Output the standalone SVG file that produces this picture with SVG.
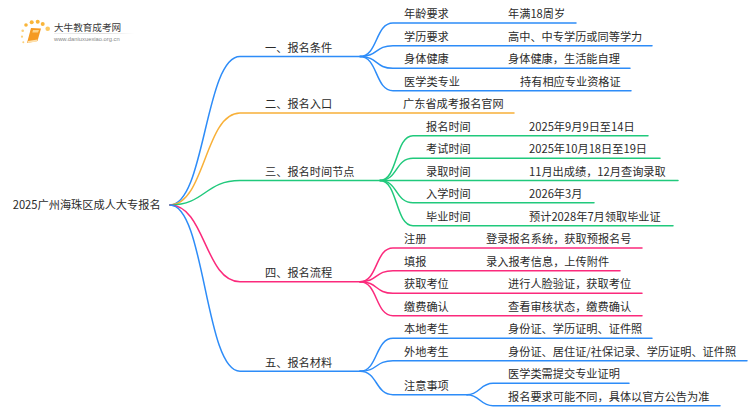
<svg xmlns="http://www.w3.org/2000/svg" width="750" height="410" viewBox="0 0 750 410">
<defs>
<style>
text{font-family:"Noto Sans CJK SC","Liberation Sans",sans-serif;fill:#2b2b2b;font-size:11.200px}
path{fill:none;stroke-width:1.5;stroke-linecap:round}
.b{stroke:#2d8cf8}.o{stroke:#f8b038}.g{stroke:#20c97c}.p{stroke:#fb2a7c}
</style>
<linearGradient id="fade" x1="0" x2="1" y1="0" y2="0"><stop offset="0" stop-color="#eee"/><stop offset="0.6" stop-color="#ddd"/><stop offset="1" stop-color="#fff"/></linearGradient>
</defs>
<rect width="750" height="410" fill="#fff"/>
<g id="logo">
<circle cx="26" cy="25" r="1.800" fill="#f9b53a"/><circle cx="22.700" cy="30.700" r="1.300" fill="#fbd07a"/><circle cx="31.700" cy="22.300" r="2" fill="#f9b53a"/><circle cx="37.700" cy="21.700" r="2" fill="#f9b53a"/><circle cx="42.700" cy="24" r="2" fill="#f9b53a"/><circle cx="47.700" cy="28.700" r="2.300" fill="#fbc862"/><circle cx="22" cy="36.700" r="1.100" fill="#fbd07a"/><circle cx="23.300" cy="42.300" r="1" fill="#fbd07a"/>
<polygon points="31,28 41,28.500 37.500,41 27,43" fill="#f59a23"/><polygon points="33,30 39,30 38,32.500 32.300,32.500" fill="#fcd38a"/><polygon points="28,41 37.500,39.500 37,41.500 27.500,43" fill="#fde0ad"/>
<text x="54" y="31" style="font-size:9.600px;fill:#3a3a3a">大牛教育成考网</text>
<text x="54" y="40.500" style="font-size:5.800px;fill:#888;font-family:'Liberation Sans',sans-serif">www.daniuxuexiao.org.cn</text>
<rect x="54" y="33" width="80" height="1" fill="url(#fade)"/>
</g>
<g id="connectors">
<path class="b" d="M170 205C205 205 205 56.500 240 56.500H360"/>
<path class="o" d="M170 205C205 205 205 113 240 113H514"/>
<path class="g" d="M170 205C205 205 205 180.500 240 180.500H380"/>
<path class="p" d="M170 205C205 205 205 281.700 240 281.700H360"/>
<path class="b" d="M170 205C205 205 205 371.300 240 371.300H360"/>
<path class="b" d="M360 56.500C378 56.500 375 23 393 23H576"/>
<path class="b" d="M360 56.500C378 56.500 375 45.700 393 45.700H652"/>
<path class="b" d="M360 56.500C378 56.500 375 68.300 393 68.300H630"/>
<path class="b" d="M360 56.500C378 56.500 375 90.700 393 90.700H631"/>
<path class="g" d="M380 180.500C398 180.500 395 135.700 413 135.700H648"/>
<path class="g" d="M380 180.500C398 180.500 395 158.300 413 158.300H660"/>
<path class="g" d="M380 180.500H678"/>
<path class="g" d="M380 180.500C398 180.500 395 202.700 413 202.700H594"/>
<path class="g" d="M380 180.500C398 180.500 395 225.700 413 225.700H673"/>
<path class="p" d="M360 281.700C378 281.700 375 248 393 248H642"/>
<path class="p" d="M360 281.700C378 281.700 375 270.700 393 270.700H620"/>
<path class="p" d="M360 281.700C378 281.700 375 293.300 393 293.300H642"/>
<path class="p" d="M360 281.700C378 281.700 375 315.700 393 315.700H642"/>
<path class="b" d="M360 371.300C378 371.300 375 338.300 393 338.300H652"/>
<path class="b" d="M360 371.300C378 371.300 375 360.700 393 360.700H747"/>
<path class="b" d="M360 371.300C378 371.300 375 394.700 393 394.700H467"/>
<path class="b" d="M467 394.700C480 394.700 480 383.300 493 383.300H629"/>
<path class="b" d="M467 394.700C480 394.700 480 405.700 493 405.700H720"/>
</g>
<g id="root"><text x="12.700" y="209">2025广州海珠区成人大专报名</text></g>
<g id="n1"><text x="265" y="52">一、报名条件</text>
<text x="404" y="18">年龄要求</text><text x="508" y="18">年满18周岁</text>
<text x="404" y="41">学历要求</text><text x="508" y="41">高中、中专学历或同等学力</text>
<text x="404" y="63">身体健康</text><text x="508" y="63">身体健康，生活能自理</text>
<text x="404" y="86">医学类专业</text><text x="520" y="86">持有相应专业资格证</text></g>
<g id="n2"><text x="265" y="108">二、报名入口</text><text x="403" y="108">广东省成考报名官网</text></g>
<g id="n3"><text x="265" y="176">三、报名时间节点</text>
<text x="426" y="131">报名时间</text><text x="529" y="131">2025年9月9日至14日</text>
<text x="426" y="153">考试时间</text><text x="529" y="153">2025年10月18日至19日</text>
<text x="426" y="176">录取时间</text><text x="529" y="176">11月出成绩，12月查询录取</text>
<text x="426" y="198">入学时间</text><text x="529" y="198">2026年3月</text>
<text x="426" y="221">毕业时间</text><text x="529" y="221">预计2028年7月领取毕业证</text></g>
<g id="n4"><text x="265" y="277">四、报名流程</text>
<text x="404" y="243">注册</text><text x="486" y="243">登录报名系统，获取预报名号</text>
<text x="404" y="266">填报</text><text x="486" y="266">录入报考信息，上传附件</text>
<text x="404" y="288">获取考位</text><text x="508" y="288">进行人脸验证，获取考位</text>
<text x="404" y="311">缴费确认</text><text x="508" y="311">查看审核状态，缴费确认</text></g>
<g id="n5"><text x="265" y="367">五、报名材料</text>
<text x="404" y="333">本地考生</text><text x="508" y="333">身份证、学历证明、证件照</text>
<text x="404" y="356">外地考生</text><text x="508" y="356">身份证、居住证/社保记录、学历证明、证件照</text>
<text x="404" y="390">注意事项</text><text x="508" y="378">医学类需提交专业证明</text><text x="508" y="401">报名要求可能不同，具体以官方公告为准</text></g>
</svg>
